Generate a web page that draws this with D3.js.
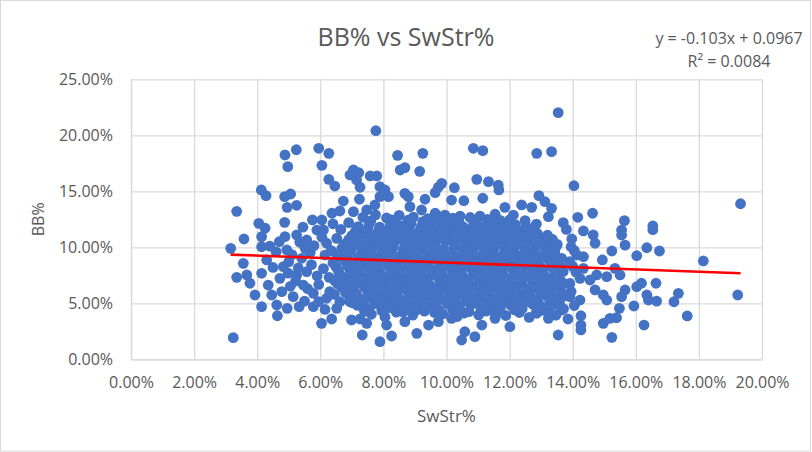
<!DOCTYPE html>
<html lang="en">
<head>
<meta charset="UTF-8">
<title>BB% vs SwStr%</title>
<style>
  body { margin: 0; padding: 0; overflow: hidden; background: #fff; }
  svg { display: block; }
  text { font-family: "Open Sans", "Liberation Sans", sans-serif; fill: #595959; }
</style>
</head>
<body>
<script src="https://d3js.org/d3.v7.min.js"></script>
<script>
  // in percent: [SwStr%, BB%]
  const points = [
    // upper outliers, left half
    [7.76,20.41],[5.24,18.71],[4.88,18.24],[4.97,17.20],[5.95,18.84],[6.27,18.39],[6.05,17.32],[6.27,16.07],[6.46,15.47],
    [4.13,15.12],[4.28,14.61],[4.87,14.52],[5.06,14.76],[4.95,13.57],[5.25,13.75],[3.35,13.21],[4.05,12.14],[4.87,12.23],
    [6.05,12.44],[6.37,13.04],[6.73,14.13],[7.05,16.90],[6.94,16.46],[7.22,16.66],[7.15,16.01],[7.26,15.36],[7.58,16.37],
    [7.79,16.37],[7.24,14.29],[7.05,13.18],[6.62,13.24],[7.89,15.41],[7.89,14.52],[7.47,13.33],[7.73,13.78],
    // upper outliers, right half
    [13.54,22.02],[10.85,18.84],[11.15,18.63],[12.86,18.39],[13.33,18.54],[8.45,18.21],[9.25,18.39],[8.53,16.90],[8.68,17.11],
    [9.15,16.78],[9.85,15.71],[9.74,15.36],[9.64,14.88],[10.25,15.32],[10.96,16.07],[11.33,15.86],[11.64,15.56],[11.66,15.12],
    [11.15,14.38],[10.16,14.22],[10.55,14.16],[10.43,12.79],[11.06,12.79],[11.54,12.95],[11.85,13.57],[12.38,13.78],[12.93,14.61],
    [13.12,14.07],[13.33,13.48],[12.70,13.57],[13.23,12.73],[8.68,14.82],[8.79,14.52],[8.05,15.12],[8.16,14.52],[8.84,13.63],
    [9.32,14.29],[9.64,13.04],[9.21,13.33],[9.95,12.88],[8.26,12.44],[12.12,12.88],[12.49,12.38],
    // right side
    [14.04,15.50],[14.16,12.68],[14.63,13.04],[15.64,12.38],[19.32,13.89],[16.54,11.90],
    [16.54,11.57],[15.55,11.54],[15.55,11.10],[14.34,11.46],[14.65,11.10],[14.71,10.36],[13.97,10.74],[15.66,10.20],[15.24,9.67],
    [16.35,9.96],[16.75,9.67],[16.03,9.25],[18.14,8.78],[14.94,8.87],[14.13,9.31],[14.34,9.16],[15.34,8.12],[15.50,7.53],
    [14.76,7.53],[15.08,7.38],[14.23,7.23],[14.55,7.08],[16.03,6.48],[16.18,6.79],[16.64,6.79],[15.66,6.19],[15.55,5.59],
    [14.71,6.19],[14.97,5.74],[15.08,5.29],[14.23,5.29],[16.35,5.74],[16.40,5.29],[16.66,5.20],[17.35,5.89],[17.21,5.14],
    [19.23,5.74],[17.63,3.87],[15.94,4.76],[15.48,4.55],[15.39,3.71],[14.97,3.21],[15.18,3.66],[16.26,3.06],[15.24,1.96],
    [14.26,3.89],[14.26,3.06],[14.26,2.62],[13.91,8.71],[14.34,8.12],[13.91,6.77],[13.91,5.59],
    [13.95,10.05],[14.05,9.70],[14.00,8.30],[14.10,7.80],[13.95,6.05],[14.05,4.80],[13.85,3.60],[13.80,11.60],[13.70,12.20],
    // left side
    [3.16,9.91],[3.58,10.74],[3.56,8.57],[3.35,7.32],[3.67,7.53],[3.77,6.79],[3.24,1.93],[3.93,5.74],[4.14,4.70],[4.64,3.89],
    [4.62,4.85],[4.46,5.74],[4.35,6.63],[4.14,7.68],[4.30,8.87],[4.14,10.05],[4.14,10.95],[4.25,11.70],[4.95,4.55],[5.33,4.70],
    [5.78,4.70],[6.04,3.21],[6.36,3.60],[6.99,3.51],[7.33,2.17],[7.89,1.57],[7.47,3.21],[7.26,3.60],[5.14,5.59],[4.78,6.04],
    [4.72,7.23],[4.83,8.27],[4.94,9.76],[4.88,10.95],[5.25,11.10],[5.57,10.65],[5.52,9.91],[5.89,11.54],[6.20,10.36],[6.52,10.80],
    [6.84,10.36],[7.26,10.20],[6.15,9.31],[5.57,7.82],[5.25,7.53],[5.46,6.63],[5.78,5.89],[6.20,5.45],[6.62,5.14],[6.52,4.55],
    [6.94,5.14],[7.41,4.55],[7.68,5.45],
    [5.05,6.52],[5.30,8.15],[5.41,9.02],[5.68,9.55],[5.72,8.45],[5.90,7.45],[5.95,6.68],[6.10,8.10],[6.28,7.32],[6.30,6.05],
    [6.35,9.70],[6.05,10.90],[5.80,10.15],[5.35,10.45],[5.10,9.35],[5.00,8.70],[4.98,7.70],[5.22,7.00],[5.60,6.30],[6.45,5.80],
    [5.95,5.15],[5.50,5.20],[6.15,4.45],[6.65,11.60],[6.40,12.10],[5.75,12.45],[6.90,12.20],[6.10,11.55],[5.45,11.80],[4.60,9.60],
    [4.50,8.20],[4.70,10.50],[4.40,10.10],
    // bottom
    [8.26,2.08],[9.06,2.32],[9.43,3.06],[10.48,1.72],[10.90,2.02],[10.58,2.46],[12.01,2.91],[13.54,2.17],[12.86,4.11],[13.23,3.66],
    [13.65,4.40],[9.74,3.36],[10.16,3.66],[11.12,3.06],[11.54,3.66],[8.68,3.36],[8.10,3.06],
    // dense middle
    [7.62,4.02],[8.05,3.78],[8.41,4.21],[8.93,3.95],[9.30,4.30],[9.88,4.05],[10.34,3.82],[10.71,4.25],[11.02,3.97],[11.46,4.33],
    [11.88,3.91],[12.31,4.18],[12.62,3.74],[13.02,4.37],[13.47,3.95],
    [7.40,4.28],[7.95,4.35],[8.62,4.22],[9.05,4.40],[9.62,4.18],[10.20,4.36],[10.55,4.12],[11.25,4.30],[11.65,4.20],[12.15,4.42],
    [12.85,4.25],[13.25,4.15],
    [7.18,4.81],[7.55,4.52],[7.86,4.93],[8.19,4.61],[8.52,4.88],[8.80,4.47],[9.12,4.95],[9.47,4.66],[9.76,4.42],[10.05,4.90],
    [10.42,4.58],[10.77,4.86],[11.09,4.49],[11.38,4.97],[11.71,4.63],[12.03,4.84],[12.40,4.54],[12.73,4.92],[13.08,4.61],[13.40,4.88],
    [13.71,4.50],
    [7.02,5.05],[7.38,5.18],[7.72,4.98],[8.05,5.22],[8.36,5.02],[8.70,5.16],[9.00,5.00],[9.33,5.24],[9.66,5.08],[9.98,5.20],
    [10.32,4.99],[10.63,5.21],[10.95,5.05],[11.27,5.19],[11.60,5.01],[11.92,5.23],[12.25,5.07],[12.58,5.18],[12.92,5.02],[13.27,5.20],
    [13.58,5.06],
    [6.92,5.60],[7.27,5.38],[7.60,5.71],[7.94,5.44],[8.27,5.63],[8.58,5.30],[8.87,5.76],[9.20,5.49],[9.53,5.68],[9.84,5.35],
    [10.18,5.58],[10.49,5.79],[10.82,5.41],[11.16,5.66],[11.50,5.33],[11.80,5.72],[12.13,5.47],[12.47,5.65],[12.79,5.36],[13.12,5.74],
    [13.44,5.45],[13.76,5.66],
    [6.80,5.95],[7.15,5.82],[7.50,6.03],[7.82,5.86],[8.14,6.00],[8.45,5.88],[8.78,6.05],[9.10,5.84],[9.42,6.01],[9.74,5.90],
    [10.06,6.06],[10.38,5.85],[10.70,6.00],[11.02,5.87],[11.35,6.04],[11.68,5.89],[12.00,6.02],[12.32,5.83],[12.66,5.99],[13.00,5.86],
    [13.33,6.03],[13.66,5.92],
    [6.70,6.41],[7.05,6.18],[7.39,6.47],[7.71,6.22],[8.03,6.53],[8.36,6.26],[8.67,6.44],[8.98,6.15],[9.31,6.52],[9.62,6.28],
    [9.95,6.46],[10.27,6.17],[10.60,6.39],[10.93,6.55],[11.24,6.21],[11.57,6.48],[11.90,6.30],[12.22,6.51],[12.56,6.19],[12.88,6.42],
    [13.21,6.25],[13.55,6.49],
    [6.55,6.72],[6.90,6.64],[7.23,6.80],[7.56,6.66],[7.88,6.78],[8.20,6.62],[8.52,6.82],[8.84,6.68],[9.16,6.76],[9.48,6.63],
    [9.80,6.81],[10.12,6.69],[10.44,6.77],[10.77,6.61],[11.09,6.79],[11.41,6.67],[11.74,6.83],[12.06,6.65],[12.39,6.78],[12.72,6.62],
    [13.05,6.80],[13.38,6.68],[13.72,6.75],
    [6.45,7.05],[6.81,7.27],[7.14,6.98],[7.47,7.20],[7.80,6.94],[8.12,7.31],[8.43,7.02],[8.76,7.25],[9.07,6.96],[9.40,7.18],
    [9.72,7.35],[10.04,7.01],[10.36,7.24],[10.69,6.97],[11.01,7.29],[11.33,7.06],[11.66,7.22],[11.98,6.95],[12.31,7.17],[12.63,7.34],
    [12.96,7.03],[13.29,7.21],[13.62,7.00],
    [6.65,7.48],[6.98,7.60],[7.31,7.44],[7.64,7.57],[7.96,7.41],[8.28,7.62],[8.60,7.46],[8.92,7.58],[9.24,7.42],[9.56,7.61],
    [9.88,7.47],[10.20,7.56],[10.52,7.40],[10.85,7.63],[11.17,7.45],[11.49,7.58],[11.82,7.43],[12.14,7.60],[12.47,7.47],[12.80,7.55],
    [13.13,7.42],[13.46,7.59],
    [6.58,7.85],[6.93,8.06],[7.25,7.80],[7.58,8.02],[7.90,7.76],[8.22,8.10],[8.54,7.88],[8.86,8.05],[9.18,7.78],[9.50,8.00],
    [9.82,7.83],[10.14,8.12],[10.47,7.90],[10.79,8.07],[11.11,7.79],[11.43,8.01],[11.76,7.86],[12.08,8.09],[12.40,7.81],[12.73,8.04],
    [13.05,7.88],[13.38,8.11],[13.70,7.84],
    [6.50,8.25],[6.84,8.40],[7.17,8.22],[7.49,8.37],[7.81,8.28],[8.13,8.43],[8.45,8.21],[8.77,8.38],[9.09,8.26],[9.41,8.41],
    [9.74,8.23],[10.06,8.36],[10.38,8.29],[10.70,8.44],[11.03,8.24],[11.35,8.39],[11.67,8.27],[12.00,8.42],[12.32,8.22],[12.64,8.35],
    [12.97,8.28],[13.30,8.41],[13.62,8.25],
    [6.40,8.62],[6.76,8.84],[7.09,8.57],[7.41,8.79],[7.73,8.66],[8.05,8.91],[8.37,8.60],[8.69,8.81],[9.01,8.55],[9.33,8.77],
    [9.66,8.93],[9.98,8.64],[10.30,8.86],[10.62,8.58],[10.95,8.80],[11.27,8.67],[11.59,8.90],[11.92,8.61],[12.24,8.83],[12.56,8.56],
    [12.89,8.78],[13.22,8.95],[13.52,8.63],
    [6.52,9.05],[6.86,9.18],[7.19,9.02],[7.51,9.16],[7.83,9.08],[8.15,9.22],[8.47,9.00],[8.79,9.15],[9.11,9.06],[9.44,9.20],
    [9.76,9.03],[10.08,9.17],[10.40,9.09],[10.72,9.23],[11.05,9.01],[11.37,9.14],[11.69,9.07],[12.02,9.21],[12.34,9.04],[12.66,9.16],
    [12.99,9.08],[13.32,9.19],[13.65,9.02],
    [6.62,9.47],[6.97,9.65],[7.30,9.40],[7.62,9.61],[7.95,9.44],[8.27,9.70],[8.59,9.38],[8.91,9.58],[9.23,9.73],[9.55,9.43],
    [9.87,9.62],[10.19,9.36],[10.52,9.57],[10.84,9.71],[11.16,9.42],[11.48,9.63],[11.81,9.39],[12.13,9.60],[12.45,9.45],[12.78,9.68],
    [13.10,9.41],[13.43,9.59],
    [6.68,9.88],[7.02,10.02],[7.35,9.84],[7.67,9.98],[7.99,9.90],[8.31,10.05],[8.63,9.83],[8.95,9.97],[9.27,9.91],[9.59,10.04],
    [9.91,9.86],[10.23,9.99],[10.56,9.92],[10.88,10.06],[11.20,9.85],[11.52,9.96],[11.85,9.89],[12.17,10.03],[12.49,9.87],[12.82,9.98],
    [13.15,9.90],[13.47,10.02],
    [6.75,10.25],[7.08,10.46],[7.40,10.19],[7.72,10.41],[8.04,10.28],[8.36,10.52],[8.68,10.22],[9.00,10.43],[9.32,10.17],[9.64,10.38],
    [9.96,10.55],[10.28,10.24],[10.61,10.45],[10.93,10.20],[11.25,10.40],[11.57,10.27],[11.90,10.50],[12.22,10.21],[12.54,10.44],[12.87,10.18],
    [13.19,10.39],[13.51,10.26],
    [6.90,10.68],[7.24,10.82],[7.56,10.64],[7.88,10.78],[8.20,10.70],[8.52,10.85],[8.84,10.63],[9.16,10.76],[9.48,10.71],[9.80,10.84],
    [10.12,10.66],[10.44,10.79],[10.77,10.72],[11.09,10.86],[11.41,10.65],[11.73,10.77],[12.06,10.69],[12.38,10.83],[12.71,10.66],[13.04,10.80],
    [13.36,10.70],
    [7.00,11.05],[7.35,11.27],[7.67,10.98],[8.00,11.20],[8.33,11.02],[8.66,11.31],[8.98,11.07],[9.30,11.24],[9.63,10.99],[9.95,11.18],
    [10.27,11.33],[10.60,11.03],[10.92,11.22],[11.24,10.97],[11.57,11.19],[11.89,11.06],[12.22,11.29],[12.55,11.01],[12.88,11.23],[13.20,11.08],
    [7.12,11.48],[7.50,11.62],[7.84,11.45],[8.17,11.58],[8.50,11.50],[8.82,11.66],[9.14,11.44],[9.47,11.57],[9.79,11.52],[10.11,11.64],
    [10.44,11.46],[10.76,11.59],[11.08,11.51],[11.40,11.63],[11.73,11.47],[12.05,11.56],[12.38,11.49],[12.70,11.61],
    [7.20,11.85],[7.55,12.06],[7.88,11.80],[8.22,12.02],[8.55,11.90],[8.88,12.12],[9.20,11.83],[9.53,12.05],[9.86,11.88],[10.20,12.10],
    [10.53,11.82],[10.86,12.00],[11.19,11.86],[11.52,12.08],[11.85,11.81],[12.18,12.03],[12.52,11.89],[12.85,12.07],
    [7.60,12.35],[8.35,12.28],[8.78,12.42],[9.25,12.30],[9.65,12.45],[10.05,12.33],[10.40,12.25],[10.95,12.38],[11.45,12.30],[12.00,12.45],
    [7.35,12.68],[7.75,12.90],[8.10,12.62],[8.50,12.85],[8.95,12.70],[9.40,12.55],[9.80,12.72],[10.20,12.60],[10.75,12.66],[11.30,12.50],
    [11.70,12.40]
  ];

  const xTicks = [0, 2, 4, 6, 8, 10, 12, 14, 16, 18, 20];
  const yTicks = [0, 5, 10, 15, 20, 25];

  // trendline as printed on the chart (fraction units)
  const trendSlope = -0.103;
  const trendIntercept = 0.0967;
  const rSquared = "0.0084";

  const width = 812, height = 452;
  const plot = { left: 131, right: 762, top: 79.3, bottom: 359.3 };

  const svg = d3.select('body').append('svg')
    .attr('width', width)
    .attr('height', height);

  svg.append('rect')
    .attr('x', 0.5).attr('y', 0.5)
    .attr('width', width - 2).attr('height', height - 1.5)
    .attr('fill', '#fff')
    .attr('stroke', '#d9d9d9');

  const x = d3.scaleLinear().domain([0, 20]).range([plot.left, plot.right]);
  const y = d3.scaleLinear().domain([0, 25]).range([plot.bottom, plot.top]);
  const pct = d => d.toFixed(2) + '%';

  const xAxis = svg.append('g')
    .attr('transform', `translate(0,${plot.bottom})`)
    .call(d3.axisBottom(x).tickValues(xTicks).tickFormat(pct)
      .tickSizeInner(-(plot.bottom - plot.top)).tickSizeOuter(0).tickPadding(17));

  const yAxis = svg.append('g')
    .attr('transform', `translate(${plot.left},0)`)
    .call(d3.axisLeft(y).tickValues(yTicks).tickFormat(pct)
      .tickSizeInner(-(plot.right - plot.left)).tickSizeOuter(0).tickPadding(18));

  [xAxis, yAxis].forEach(g => {
    g.select('.domain').attr('stroke', '#d9d9d9').attr('stroke-width', 1.3);
    g.selectAll('.tick line').attr('stroke', '#d9d9d9').attr('stroke-width', 1.3);
    g.selectAll('.tick text')
      .attr('fill', '#595959')
      .style('font-size', '16px')
      .style('font-family', '"Open Sans", sans-serif');
  });

  svg.append('g')
    .selectAll('circle')
    .data(points)
    .enter()
    .append('circle')
    .attr('cx', d => x(d[0]))
    .attr('cy', d => y(d[1]))
    .attr('r', 5.4)
    .attr('fill', '#4472C4');

  // linear trendline over the range of the data
  const xExtent = d3.extent(points, d => d[0]);
  svg.append('line')
    .attr('x1', x(xExtent[0]))
    .attr('y1', y((trendSlope * xExtent[0] / 100 + trendIntercept) * 100))
    .attr('x2', x(xExtent[1]))
    .attr('y2', y((trendSlope * xExtent[1] / 100 + trendIntercept) * 100))
    .attr('stroke', '#ff0000')
    .attr('stroke-width', 2.6);

  svg.append('text')
    .attr('x', 406).attr('y', 46)
    .attr('text-anchor', 'middle')
    .style('font-size', '25px')
    .text('BB% vs SwStr%');

  svg.append('text')
    .attr('x', 729).attr('y', 44)
    .attr('text-anchor', 'middle')
    .style('font-size', '16px')
    .text(`y = ${trendSlope}x + ${trendIntercept}`);

  svg.append('text')
    .attr('x', 729).attr('y', 67)
    .attr('text-anchor', 'middle')
    .style('font-size', '16px')
    .text(`R² = ${rSquared}`);

  svg.append('text')
    .attr('transform', `translate(44,${(plot.top + plot.bottom) / 2}) rotate(-90)`)
    .attr('text-anchor', 'middle')
    .style('font-size', '16px')
    .text('BB%');

  svg.append('text')
    .attr('x', (plot.left + plot.right) / 2).attr('y', 422)
    .attr('text-anchor', 'middle')
    .style('font-size', '17px')
    .text('SwStr%');
</script>
</body>
</html>
